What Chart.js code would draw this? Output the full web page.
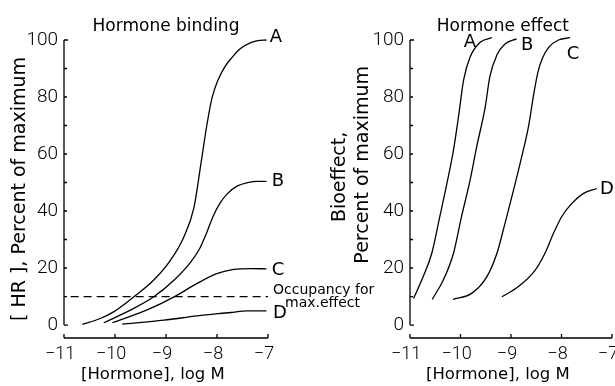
<!DOCTYPE html>
<html><head><meta charset="utf-8">
<script src="https://cdn.jsdelivr.net/npm/chart.js@4/dist/chart.umd.min.js"></script>
<style>
html,body{margin:0;padding:0;background:#fff;}
#wrap{position:relative;width:615px;height:386px;overflow:hidden;}
canvas{position:absolute;left:0;top:0;}
</style></head><body>
<div id="wrap"><canvas id="binding" width="615" height="386"></canvas><canvas id="effect" width="615" height="386"></canvas></div>
<script>
// ---- tick values / labels ----
const logTicks = [-11, -10, -9, -8, -7];
const logTickLabels = ['\u221211', '\u221210', '\u22129', '\u22128', '\u22127'];
const pctTicks = [0, 20, 40, 60, 80, 100];
const pctTickLabels = ['0', '20', '40', '60', '80', '100'];
const pctMinorTicks = [10, 30, 50, 70, 90];
const curveNames = ['A', 'B', 'C', 'D'];

// ---- Hormone binding (left panel): log M vs [HR] % of max ----
const bindA_logM = [-10.64, -10.3, -10.02, -9.63, -9.24, -8.91, -8.65, -8.45, -8.32, -8.2, -8.1, -7.98, -7.85, -7.7, -7.54, -7.35, -7.2, -7.03];
const bindA_pct  = [0.2, 2.2, 4.7, 9.9, 15.8, 22.8, 30.9, 41.4, 56.0, 70.0, 79.5, 86.0, 90.5, 94.0, 97.0, 99.0, 99.8, 100.0];
const bindB_logM = [-10.22, -9.69, -9.24, -8.84, -8.52, -8.35, -8.2, -8.08, -7.95, -7.8, -7.6, -7.4, -7.2, -7.03];
const bindB_pct  = [0.8, 5.3, 9.9, 15.8, 22.0, 26.5, 32.5, 38.0, 42.5, 46.0, 48.8, 50.0, 50.4, 50.4];
const bindC_logM = [-10.05, -9.37, -8.84, -8.39, -7.99, -7.67, -7.34, -7.03];
const bindC_pct  = [0.8, 5.3, 9.9, 14.6, 18.1, 19.5, 19.8, 19.7];
const bindD_logM = [-9.86, -9.04, -8.39, -7.73, -7.41, -7.03];
const bindD_pct  = [0.3, 1.7, 3.2, 4.4, 5.0, 5.0];
const occupancy_logM = [-10.87, -7.0];
const occupancy_pct  = [10, 10];
const occupancyNote = ['Occupancy for', 'max.effect'];

// ---- Hormone effect (right panel): log M vs bioeffect % of max ----
const effA_logM = [-10.93, -10.74, -10.57, -10.41, -10.27, -10.14, -10.04, -9.94, -9.81, -9.61, -9.38];
const effA_pct  = [9.3, 16.9, 25.1, 38.0, 49.6, 61.3, 73.0, 85.8, 94.0, 99.2, 100.8];
const effB_logM = [-10.56, -10.34, -10.14, -9.98, -9.81, -9.68, -9.51, -9.42, -9.28, -9.12, -8.89];
const effB_pct  = [9.0, 15.8, 25.1, 38.0, 50.8, 62.5, 76.5, 87.1, 94.7, 98.6, 100.4];
const effC_logM = [-10.15, -9.78, -9.48, -9.28, -9.12, -8.95, -8.79, -8.65, -8.55, -8.47, -8.38, -8.25, -8.06, -7.83];
const effC_pct  = [9.0, 11.1, 16.9, 25.1, 35.6, 47.3, 58.9, 70.0, 81.0, 88.5, 93.5, 97.5, 100.0, 100.8];
const effD_logM = [-9.18, -8.86, -8.52, -8.33, -8.16, -8.00, -7.80, -7.57, -7.30];
const effD_pct  = [9.9, 13.4, 19.3, 25.1, 32.1, 37.9, 42.6, 46.1, 47.9];

// ---- styling ----
const TEXT_FONT = "'DejaVu Sans', sans-serif";
const NUM_FONT = "Roboto, 'DejaVu Sans', sans-serif";
Chart.defaults.font.family = TEXT_FONT;
Chart.defaults.color = '#000';

function pts(xs, ys) { return xs.map((x, i) => ({ x: x, y: ys[i] })); }

function curve(name, xs, ys, labelOffset) {
  return {
    label: name, data: pts(xs, ys), endLabel: name, endLabelOffset: labelOffset,
    borderColor: '#000', borderWidth: 1.3, pointRadius: 0, fill: false,
    cubicInterpolationMode: 'monotone', clip: false
  };
}

const axesPlugin = {
  id: 'manualAxes',
  afterDraw(chart) {
    const ctx = chart.ctx, area = chart.chartArea, xs = chart.scales.x, ys = chart.scales.y;
    ctx.save();
    ctx.strokeStyle = '#000';
    ctx.lineWidth = 1.3;
    ctx.beginPath();
    const ax = area.left;
    ctx.moveTo(ax, ys.getPixelForValue(pctTicks[0]));
    ctx.lineTo(ax, ys.getPixelForValue(pctTicks[pctTicks.length - 1]));
    pctTicks.concat(pctMinorTicks).forEach(v => {
      const py = ys.getPixelForValue(v);
      const len = (v === pctTicks[0] || v === pctTicks[pctTicks.length - 1]) ? 4 : 3;
      ctx.moveTo(ax, py); ctx.lineTo(ax + len, py);
    });
    const by = area.bottom;
    ctx.moveTo(xs.getPixelForValue(logTicks[0]), by);
    ctx.lineTo(xs.getPixelForValue(logTicks[logTicks.length - 1]), by);
    logTicks.forEach(v => {
      const px = xs.getPixelForValue(v);
      ctx.moveTo(px, by); ctx.lineTo(px, by - 4);
    });
    ctx.stroke();

    ctx.fillStyle = '#000';
    chart.data.datasets.forEach(ds => {
      const last = ds.data[ds.data.length - 1];
      const px = xs.getPixelForValue(last.x), py = ys.getPixelForValue(last.y);
      if (ds.endLabel) {
        ctx.font = '18px ' + TEXT_FONT;
        ctx.textAlign = 'center';
        ctx.textBaseline = 'middle';
        ctx.fillText(ds.endLabel, px + ds.endLabelOffset[0], py + ds.endLabelOffset[1]);
      }
      if (ds.note) {
        ctx.font = '14px ' + TEXT_FONT;
        ctx.textAlign = 'left';
        ctx.textBaseline = 'alphabetic';
        ds.note.forEach((t, i) => ctx.fillText(t, px + ds.noteOffsets[i][0], py + ds.noteOffsets[i][1]));
      }
    });
    ctx.restore();
  }
};

function makeChart(id, cfg) {
  return new Chart(document.getElementById(id), {
    type: 'line',
    data: { datasets: cfg.datasets },
    plugins: [axesPlugin],
    options: {
      responsive: false, animation: false, devicePixelRatio: 1, events: [],
      layout: { padding: cfg.padding },
      plugins: {
        legend: { display: false }, tooltip: { enabled: false },
        title: { display: true, text: cfg.title, fullSize: false, color: '#000',
          font: { family: TEXT_FONT, size: 17, weight: 'normal' }, padding: { top: 16, bottom: 3.6 } }
      },
      scales: {
        x: {
          type: 'linear', min: logTicks[0], max: logTicks[logTicks.length - 1],
          afterBuildTicks: s => { s.ticks = logTicks.map(v => ({ value: v })); },
          afterFit: s => { s.height = 48; s.paddingLeft = 0; s.paddingRight = 0; },
          ticks: { callback: v => logTickLabels[logTicks.indexOf(v)], font: { family: NUM_FONT, size: 18, weight: '300' },
            color: '#000', padding: 6, labelOffset: -4, maxRotation: 0, autoSkip: false },
          grid: { display: false, drawTicks: false }, border: { display: false },
          title: { display: true, text: cfg.xTitle, color: '#000', font: { family: TEXT_FONT, size: 16.5 },
            padding: { top: 0, bottom: 1 } }
        },
        y: {
          type: 'linear', min: -4.55, max: 100,
          afterBuildTicks: s => { s.ticks = pctTicks.map(v => ({ value: v })); },
          afterFit: s => { s.width = cfg.yWidth; },
          ticks: { callback: v => pctTickLabels[pctTicks.indexOf(v)], font: { family: NUM_FONT, size: 19, weight: '300' },
            color: '#000', padding: 6 },
          grid: { display: false, drawTicks: false }, border: { display: false },
          title: { display: true, text: cfg.yTitle, color: '#000', font: { family: TEXT_FONT, size: 19, lineHeight: 1.2 },
            padding: { top: cfg.yTitlePad, bottom: 0 } }
        }
      }
    }
  });
}

const occupancyLine = {
  label: 'Occupancy for max.effect', data: pts(occupancy_logM, occupancy_pct),
  borderColor: '#000', borderWidth: 1.3, borderDash: [8, 5], pointRadius: 0, fill: false, clip: false,
  note: occupancyNote, noteOffsets: [[5, -2.5], [17, 10]]
};

makeChart('binding', {
  title: 'Hormone binding',
  xTitle: '[Hormone], log M     ',
  yTitle: '[ HR ], Percent of maximum',
  yWidth: 64, yTitlePad: 9,
  padding: { left: 0, right: 347, top: 0, bottom: 0 },
  datasets: [
    curve(curveNames[0], bindA_logM, bindA_pct, [9.5, -2.5]),
    curve(curveNames[1], bindB_logM, bindB_pct, [11.5, 0]),
    curve(curveNames[2], bindC_logM, bindC_pct, [11.5, 1]),
    curve(curveNames[3], bindD_logM, bindD_pct, [13.5, 3]),
    occupancyLine
  ]
});

makeChart('effect', {
  title: 'Hormone effect   ',
  xTitle: '[Hormone], log M     ',
  yTitle: ['    Bioeffect,', '        Percent of maximum'],
  yWidth: 90, yTitlePad: 8.6,
  padding: { left: 320, right: 3, top: 0, bottom: 0 },
  datasets: [
    curve(curveNames[0], effA_logM, effA_pct, [-22, 5]),
    curve(curveNames[1], effB_logM, effB_pct, [10.5, 6.5]),
    curve(curveNames[2], effC_logM, effC_pct, [3, 17]),
    curve(curveNames[3], effD_logM, effD_pct, [10, 1])
  ]
});
</script>
</body></html>
